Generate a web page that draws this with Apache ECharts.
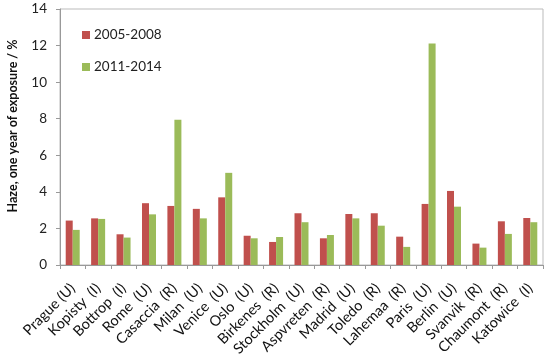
<!DOCTYPE html>
<html><head><meta charset="utf-8">
<script src="https://cdn.jsdelivr.net/npm/echarts@6/dist/echarts.min.js"></script>
<style>html,body{margin:0;padding:0;background:#fff}#c{width:550px;height:356px}</style>
</head><body><div id="c"></div>
<script>
var categories = ["Prague (U)","Kopisty  (I)","Bottrop  (I)","Rome  (U)","Casaccia  (R)","Milan  (U)","Venice  (U)","Oslo  (U)","Birkenes  (R)","Stockholm  (U)","Aspvreten  (R)","Madrid  (U)","Toledo  (R)","Lahemaa  (R)","Paris  (U)","Berlin  (U)","Svanvik  (R)","Chaumont  (R)","Katowice  (I)"];
var s2005 = [2.43,2.55,1.68,3.38,3.23,3.07,3.70,1.60,1.26,2.83,1.46,2.79,2.83,1.55,3.34,4.05,1.17,2.39,2.57];
var s2011 = [1.92,2.52,1.50,2.77,7.94,2.55,5.04,1.46,1.53,2.34,1.64,2.55,2.15,0.99,12.12,3.19,0.95,1.70,2.34];
var yTicks = [0,2,4,6,8,10,12,14];
var seriesNames = ["2005-2008","2011-2014"];

var chart = echarts.init(document.getElementById('c'), null, {renderer:'canvas'});
var font = 'Lato';
chart.setOption({
  animation:false,
  textStyle:{fontFamily:font},
  legend:{
    orient:'vertical', left:77, top:23, itemWidth:8, itemHeight:8, itemGap:18,
    icon:'rect',
    textStyle:{fontSize:13.5, color:'#222', fontFamily:font, padding:[0,0,0,-1]},
    data:seriesNames
  },
  grid:{left:60, right:7, top:9, bottom:91, show:true, borderColor:'#bbb', borderWidth:1, outerBoundsMode:'none', containLabel:false},
  xAxis:{
    type:'category', data:categories,
    axisLine:{lineStyle:{color:'#999'}},
    axisTick:{show:true, length:4, lineStyle:{color:'#999'}},
    axisLabel:{rotate:45, fontSize:14.5, color:'#111', margin:21, interval:0, fontFamily:font}
  },
  yAxis:{
    type:'value', min:yTicks[0], max:yTicks[yTicks.length-1], interval:2,
    name:'Haze, one year of exposure / %', nameLocation:'middle', nameGap:41,
    nameTextStyle:{fontWeight:'bold', fontSize:12.5, color:'#111', fontFamily:font, padding:[0,0,0,22]},
    axisLine:{show:true, lineStyle:{color:'#999'}},
    axisTick:{show:true, length:4, lineStyle:{color:'#999'}},
    splitLine:{show:false},
    axisLabel:{fontSize:13.5, color:'#222', margin:13, fontFamily:font}
  },
  series:[
    {name:seriesNames[0], type:'bar', data:s2005, barWidth:7, barGap:'0%', itemStyle:{color:'#C0504D'}},
    {name:seriesNames[1], type:'bar', data:s2011, barWidth:7, barGap:'0%', itemStyle:{color:'#9BBB59'}}
  ]
});
</script></body></html>
